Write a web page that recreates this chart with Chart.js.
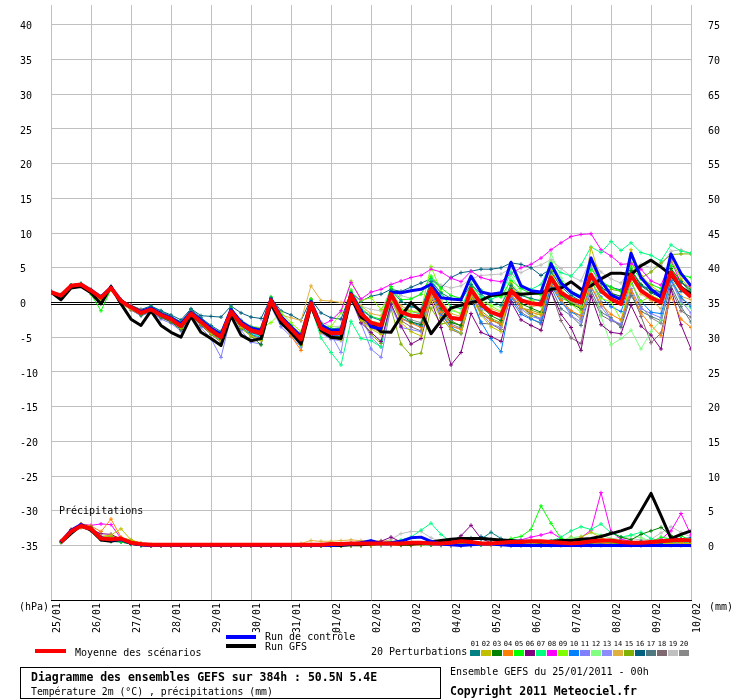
<!DOCTYPE html>
<html>
<head>
<meta charset="utf-8">
<script src="https://cdn.jsdelivr.net/npm/chart.js@4.4.1/dist/chart.umd.min.js"></script>
<style>
html, body { margin:0; padding:0; background:#fff; }
canvas { display:block; }
</style>
</head>
<body>
<canvas id="diag" width="740" height="700"></canvas>
<script>
// x = 6h steps from 25/01 00h (0..64), one label per day
const dates = ['25/01','26/01','27/01','28/01','29/01','30/01','31/01','01/02','02/02',
               '03/02','04/02','05/02','06/02','07/02','08/02','09/02','10/02'];
const tempTicks = [-35,-30,-25,-20,-15,-10,-5,0,5,10,15,20,25,30,35,40];
const mmTicks = [0,5,10,15,20,25,30,35,40,45,50,55,60,65,70,75];

// temperature 2m (°C), 65 values
const tempMean = [
  1.5,1.0,2.4,2.6,1.7,0.7,2.1,0.2,
  -0.7,-1.5,-1.0,-1.8,-2.4,-3.4,-1.6,-2.8,
  -4.0,-5.0,-1.3,-3.1,-4.0,-4.4,0.3,-2.3,
  -3.8,-5.3,-0.1,-3.7,-4.4,-4.4,1.1,-1.6,
  -2.9,-3.3,1.2,-1.4,-1.9,-2.0,2.0,-0.3,
  -2.2,-2.4,1.9,-0.2,-1.4,-1.9,1.7,0.3,
  -0.1,-0.3,3.6,1.4,0.5,0.0,4.0,1.7,
  0.5,-0.2,4.0,1.7,0.7,0.0,4.3,2.1,
  0.8];
const tempControl = [
  1.5,1.0,2.4,2.6,1.8,0.8,2.2,0.3,
  -0.6,-1.3,-0.8,-1.6,-2.2,-3.1,-1.4,-2.5,
  -3.7,-4.6,-1.0,-2.8,-3.7,-4.0,0.5,-2.0,
  -3.5,-4.9,0.1,-3.3,-4.0,-3.9,1.3,-1.2,
  -3.5,-3.8,1.5,1.4,1.7,1.9,2.6,0.7,
  0.5,0.4,3.8,1.5,1.2,1.4,5.8,2.4,
  1.7,1.5,5.6,2.8,1.5,0.7,6.4,3.1,
  1.1,0.4,7.1,3.6,1.9,0.8,7.0,4.2,
  2.4];
const tempGfs = [
  1.5,0.4,2.1,2.3,1.4,-0.2,2.3,-0.2,
  -2.4,-3.3,-1.2,-3.3,-4.3,-5.0,-2.0,-4.3,
  -5.2,-6.2,-1.9,-4.7,-5.5,-5.2,-0.2,-2.9,
  -4.3,-6.0,-0.5,-4.0,-5.0,-5.2,0.7,-2.1,
  -2.9,-4.2,-4.3,-2.0,0.0,-1.3,-4.5,-2.6,
  -0.8,-0.4,0.0,0.3,1.0,1.2,1.4,1.2,
  1.3,1.4,1.9,2.1,3.0,1.9,2.4,3.4,
  4.2,4.2,4.0,5.3,6.1,5.1,4.0,2.2,
  1.2];
const tempPerts = [
  [1.6,1.1,2.5,2.7,1.9,0.9,2.3,0.3, -0.5,-1.2,-0.6,-1.2,-2.0,-2.8,-1.0,-2.2, -3.3,-4.2,-0.9,-2.6,-3.5,-3.8,0.6,-2.0, -3.4,-4.6,0.2,-3.0,-3.9,-4.1,1.3,-1.0,
   -2.1,-2.6,1.8,0.2,-0.6,-1.0,3.0,1.4, 0.6,0.3,2.6,1.2,0.2,-0.4,2.5,1.0, 0.6,0.2,4.4,2.3,1.0,0.2,3.5,1.5, 0.8,0.6,3.8,2.4,1.9,1.5,4.4,3.0, 1.8],
  [1.4,1.0,2.3,2.5,1.5,0.3,1.8,-0.2, -1.0,-1.6,-0.8,-1.9,-2.6,-3.7,-1.4,-3.1, -4.5,-5.6,-1.5,-3.6,-4.8,-5.5,0.1,-2.8, -4.3,-5.9,-0.7,-4.2,-5.0,-5.4,0.8,-2.6,
   -3.8,-4.6,0.6,-2.9,-4.2,-4.8,0.4,-2.3, -3.8,-4.4,0.9,-1.8,-3.5,-4.2,2.8,-0.5, -2.0,-1.6,4.9,2.0,0.3,-0.7,7.9,3.2, 1.2,0.4,7.6,3.9,2.4,1.4,6.2,3.4, 2.0],
  [1.5,0.9,2.4,2.6,1.6,0.5,2.0,0.0, -0.9,-1.8,-1.2,-2.1,-2.8,-3.9,-1.8,-3.2, -4.5,-5.6,-1.6,-3.7,-4.8,-6.1,-0.4,-3.0, -4.3,-5.8,-0.5,-4.1,-5.0,-4.9,0.7,-2.0,
   -3.4,-3.8,1.6,-1.8,-2.8,-3.2,1.7,-0.9, -2.9,-3.3,2.2,-0.5,-1.9,-2.6,2.0,-0.2, -0.8,-1.4,3.2,1.1,-0.2,-0.9,3.8,2.2, 1.3,0.9,4.6,2.6,1.5,1.1,4.9,3.0, 1.4],
  [1.6,1.1,2.3,2.5,1.8,0.8,2.2,0.4, -0.4,-1.1,-0.9,-1.6,-2.1,-3.0,-1.3,-2.6, -3.7,-4.6,-1.2,-3.0,-4.1,-4.5,0.0,-2.5, -4.8,-6.9,-0.8,-4.3,-4.9,-5.0,0.6,-2.2,
   -3.6,-4.1,0.8,-2.3,-3.0,-3.6,1.0,-1.4, -3.4,-3.9,0.9,-1.5,-2.6,-3.1,1.2,-0.7, -1.4,-1.8,2.7,0.3,-1.2,-1.9,2.4,-0.3, -1.7,-2.5,1.8,-1.5,-3.3,-4.8,0.9,-2.4, -3.6],
  [1.5,1.0,2.2,2.4,1.2,-1.2,1.9,0.1, -0.8,-1.3,-0.7,-1.5,-2.2,-3.1,-1.2,-2.5, -3.6,-4.4,-0.8,-2.7,-3.7,-4.0,0.8,-1.8, -3.3,-4.7,0.4,-3.1,-3.8,-3.6,1.8,-0.8,
   -2.0,-2.4,2.3,0.4,0.5,1.2,3.8,2.1, 1.0,0.6,3.5,1.8,0.9,0.8,3.2,2.0, 1.3,1.1,5.8,3.0,1.6,1.0,4.8,3.1, 2.2,1.6,5.1,3.4,2.6,2.0,5.4,4.0, 3.6],
  [1.4,0.9,2.3,2.5,1.6,0.6,2.1,0.1, -0.9,-1.6,-1.1,-2.0,-2.7,-3.6,-1.9,-3.1, -4.3,-5.3,-1.5,-3.3,-4.3,-4.7,0.1,-2.6, -4.1,-5.7,-0.4,-4.0,-4.8,-4.9,0.8,-2.9,
   -4.3,-5.6,-0.2,-3.4,-6.0,-5.2,0.3,-3.6, -9.0,-7.2,-1.6,-4.3,-4.9,-5.6,0.1,-2.5, -3.3,-4.0,1.6,-1.7,-3.6,-6.9,0.9,-3.2, -4.3,-4.5,-0.4,-3.4,-4.7,-6.7,1.9,-3.2, -6.7],
  [1.5,1.0,2.5,2.7,1.7,0.7,2.0,0.1, -0.8,-1.6,-1.2,-2.0,-2.6,-3.6,-1.8,-3.0, -4.3,-5.4,-1.5,-3.4,-4.4,-4.9,0.1,-2.8, -4.5,-6.2,-0.6,-5.1,-7.2,-9.0,-2.7,-5.2,
   -5.5,-6.4,0.3,-2.1,-1.9,-1.5,3.3,1.3, -0.6,-0.9,2.6,0.8,0.5,1.0,4.4,2.5, 1.9,2.6,5.6,4.3,3.8,5.4,8.0,7.2, 8.8,7.5,8.6,7.2,6.8,6.0,8.3,7.4, 7.1],
  [1.6,1.1,2.4,2.6,1.8,0.8,2.3,0.4, -0.5,-1.3,-0.8,-1.6,-2.2,-3.1,-1.3,-2.5, -3.5,-4.4,-1.0,-2.8,-3.7,-4.0,0.6,-2.1, -3.5,-4.8,0.2,-3.3,-2.6,-1.2,2.9,0.5,
   1.5,1.9,2.6,3.1,3.6,3.9,4.8,4.4, 3.5,3.0,4.5,3.6,3.2,3.0,4.2,5.0, 5.5,6.4,7.6,8.6,9.5,9.8,9.9,7.6, 6.7,5.5,5.6,4.8,3.1,2.5,6.0,2.8, 2.2],
  [1.5,1.0,2.5,2.7,1.7,0.7,2.2,0.2, -0.6,-1.4,-0.9,-1.7,-2.3,-3.2,-1.4,-2.7, -3.8,-4.6,-1.1,-2.8,-3.5,-3.6,-2.9,-1.4, -2.9,-4.2,0.5,-3.4,-3.5,-1.5,3.1,0.3,
   0.7,-1.0,0.9,-1.0,-1.3,-1.2,5.2,1.6, -0.9,-1.7,2.5,0.2,-0.5,-1.3,2.8,1.2, 0.4,-0.5,4.6,0.9,-0.2,-1.4,3.2,0.6, 0.1,-2.5,2.9,0.1,1.0,0.4,4.8,3.2, 1.6],
  [1.5,1.0,2.3,2.6,1.6,0.6,2.0,0.1, -0.9,-1.7,-1.2,-2.0,-2.6,-3.7,-1.8,-3.1, -4.4,-5.5,-1.6,-3.5,-4.6,-5.0,0.1,-2.7, -4.2,-5.6,-0.2,-3.9,-4.7,-4.8,0.9,-2.2,
   -3.5,-4.2,0.7,-2.2,-2.9,-3.4,1.6,-1.6, -3.6,-4.4,0.8,-2.8,-5.2,-7.1,0.4,-1.7, -2.4,-2.9,2.5,0.0,-1.4,-1.9,3.0,0.8, -0.6,-1.3,2.8,0.2,-1.4,-1.6,3.2,0.8, -0.6],
  [1.4,0.9,2.3,2.5,1.5,0.5,1.9,-0.1, -1.0,-1.9,-1.3,-2.4,-3.0,-4.1,-2.2,-3.6, -5.2,-7.9,-2.0,-4.0,-5.7,-6.0,-0.6,-3.5, -4.9,-6.4,-0.8,-4.4,-5.3,-5.5,0.5,-3.0,
   -6.7,-7.9,-0.6,-3.6,-3.9,-4.2,1.0,-1.9, -3.4,-3.8,1.3,-1.6,-3.1,-3.6,1.0,-0.9, -2.0,-2.4,2.9,0.4,-1.9,-2.8,2.3,-0.6, -2.5,-3.1,2.0,-0.9,-1.6,-2.2,3.1,0.2, -1.5],
  [1.5,1.0,2.4,2.6,1.7,0.7,2.0,0.3, -0.6,-1.4,-1.0,-1.8,-2.4,-3.3,-1.5,-2.7, -3.9,-4.7,-1.1,-2.9,-3.9,-4.3,0.4,-2.3, -3.7,-5.0,-0.2,-3.6,-4.4,-4.5,0.8,-1.8,
   -2.7,-2.9,2.1,-0.9,-1.6,-1.9,2.8,0.1, -1.2,-1.5,3.0,0.6,-0.3,-0.7,4.0,1.4, 0.2,0.5,7.1,3.5,1.5,-0.6,4.5,-2.0, -6.1,-5.2,-4.0,-6.7,-4.2,-2.5,3.5,-0.1, -0.8],
  [1.5,1.0,2.4,2.6,1.7,0.7,2.1,0.2, -0.8,-1.6,-1.1,-1.9,-2.5,-3.5,-1.7,-2.9, -4.2,-5.2,-1.3,-3.3,-4.3,-4.8,0.0,-2.6, -4.1,-5.9,-0.5,-3.9,-4.6,-7.2,1.0,-2.1,
   -5.0,-6.4,0.2,-2.4,-2.8,-3.1,2.4,-0.4, -2.3,-2.6,1.8,-0.9,-1.6,-2.2,2.2,0.5, 0.0,-0.3,3.2,1.0,0.2,-0.5,5.3,2.0, 1.4,0.8,4.9,2.6,1.8,1.3,4.9,2.3, 1.0],
  [1.5,1.0,2.4,2.6,1.7,0.7,2.1,0.2, -0.7,-1.4,-0.9,-1.7,-2.3,-3.2,-1.5,-2.6, -3.8,-4.7,-1.2,-2.9,-3.8,-4.2,0.4,-1.8, -2.2,-2.6,2.4,0.3,0.2,0.0,0.3,-0.5,
   -1.6,-1.9,1.4,-0.5,-1.2,-1.6,2.1,0.3, -1.6,-2.0,1.5,-0.6,-0.9,-1.4,2.4,0.5, -0.6,-0.4,4.1,1.2,0.7,-0.2,6.0,2.1, 0.6,-0.1,5.4,1.2,0.3,-0.9,3.5,0.9, 0.4],
  [1.5,1.0,2.4,2.6,1.7,0.7,2.0,0.1, -0.8,-1.6,-1.1,-1.9,-2.6,-3.5,-1.7,-2.9, -4.2,-5.1,-1.4,-3.2,-4.3,-4.6,0.2,-2.5, -4.0,-5.4,-0.3,-3.8,-4.5,-4.6,0.9,-2.3,
   -4.6,-5.9,-0.9,-6.0,-7.6,-7.3,-0.8,-3.1, -2.8,-3.3,1.4,-1.2,-2.3,-2.9,1.2,-0.8, -1.1,-1.6,2.8,0.6,0.1,-0.8,4.1,1.6, 1.9,1.6,5.8,3.5,4.4,5.7,6.9,7.0, 7.0],
  [1.6,1.1,2.5,2.7,1.8,0.8,2.2,0.3, -0.4,-1.0,-0.5,-1.2,-1.8,-2.5,-0.9,-1.9, -2.0,-2.1,-0.5,-1.5,-2.1,-2.3,0.7,-1.2, -1.8,-2.6,0.5,-1.5,-2.2,-2.4,1.5,0.2,
   0.9,1.2,1.9,1.6,2.2,2.8,3.4,2.1, 3.6,4.3,4.5,4.8,4.8,5.0,5.7,5.5, 5.0,3.9,4.9,3.1,1.6,0.9,3.9,2.7, 2.2,1.8,4.6,2.4,1.4,0.7,3.8,1.6, 1.2],
  [1.5,1.0,2.4,2.6,1.7,0.6,2.1,0.1, -0.9,-1.7,-1.2,-2.0,-2.6,-3.6,-1.6,-2.9, -4.1,-5.0,-1.2,-3.0,-4.0,-4.5,0.5,-2.2, -3.7,-5.1,0.0,-3.5,-4.2,-4.3,1.4,-1.4,
   -2.8,-3.4,1.8,-0.9,-1.3,-1.6,2.6,-0.2, -2.6,-3.4,1.2,-1.7,-2.4,-3.3,0.9,-0.7, -1.6,-2.6,2.2,-0.9,-1.9,-3.3,1.8,-1.4, -2.2,-3.6,1.0,-1.3,-2.0,-2.6,2.4,-0.6, -2.8],
  [1.4,0.9,2.3,2.5,1.5,0.5,1.9,0.0, -1.1,-1.9,-1.4,-2.2,-2.8,-3.9,-1.9,-3.3, -4.6,-5.7,-1.6,-3.6,-4.7,-5.2,-0.1,-2.8, -4.4,-6.0,-0.5,-4.2,-5.0,-5.1,0.7,-2.5,
   -3.6,-4.3,0.5,-2.6,-3.5,-4.1,1.2,-2.2, -3.9,-4.5,0.6,-3.0,-3.1,-3.9,0.9,-1.4, -2.3,-3.1,1.6,-2.6,-5.1,-5.9,1.2,-1.8, -2.6,-3.2,1.5,-2.0,-5.8,-4.4,2.0,-1.2, -2.1],
  [1.6,1.1,2.5,2.7,1.8,0.8,2.3,0.3, -0.5,-1.2,-0.7,-1.4,-2.0,-2.9,-1.1,-2.3, -3.4,-4.2,-0.8,-2.5,-3.4,-3.7,0.7,-1.8, -3.2,-4.5,0.5,-2.8,-3.5,-3.4,1.5,-0.5,
   -1.0,-1.2,2.0,1.0,0.6,1.2,3.4,2.5, 2.1,2.4,3.4,3.9,4.0,4.1,4.9,4.3, 5.0,5.4,6.2,4.9,3.8,3.1,6.4,4.4, 3.4,2.8,4.9,5.5,5.0,5.3,7.4,7.6, 7.1],
  [1.5,1.0,2.4,2.6,1.7,0.7,2.1,0.2, -0.7,-1.5,-0.9,-1.8,-2.4,-3.4,-1.5,-2.8, -4.0,-5.0,-1.1,-3.0,-3.9,-4.4,0.5,-2.2, -3.6,-5.1,0.1,-3.5,-4.3,-4.3,1.3,-1.5,
   -3.1,-3.6,1.1,-1.9,-2.5,-2.9,1.8,-1.2, -3.1,-3.7,1.4,-1.6,-2.6,-3.0,1.9,-0.6, -1.7,-2.3,3.8,0.4,-1.2,-2.4,3.4,0.1, -2.4,-3.4,3.3,-0.6,-2.2,-3.0,3.6,0.5, -0.3]
];

// 6h precipitation (mm), 64 values from 25/01 06h
const precipMean = [
  0.5,2.0,2.8,2.4,1.0,0.9,1.0,0.4,
  0.2,0.1,0.1,0.1,0.1,0.1,0.1,0.1,
  0.1,0.1,0.1,0.1,0.1,0.1,0.1,0.1,
  0.1,0.1,0.1,0.2,0.2,0.3,0.3,0.3,
  0.3,0.3,0.3,0.4,0.4,0.3,0.3,0.4,
  0.6,0.5,0.3,0.3,0.4,0.5,0.5,0.6,
  0.6,0.5,0.4,0.3,0.4,0.6,0.7,0.7,
  0.5,0.4,0.4,0.5,0.6,0.7,0.8,0.7];
const precipControl = [
  0.5,2.2,3.0,2.4,1.1,0.8,0.9,0.3,
  0.1,0,0,0,0,0,0,0,
  0,0,0,0,0,0,0,0,
  0,0,0,0,0.1,0.2,0.4,0.7,
  0.3,0.4,0.6,1.1,1.2,0.6,0.2,0.1,
  0,0.1,0.2,0.2,0.1,0,0,0,
  0,0,0,0,0,0,0,0,
  0,0,0,0,0,0,0,0];
const precipGfs = [
  0.4,1.7,2.9,2.2,0.8,0.6,0.9,0.3,
  0.1,0,0,0,0,0,0,0,
  0,0,0,0,0,0,0,0,
  0,0,0,0,0,0.1,0.1,0.2,
  0.3,0.3,0.2,0.2,0.3,0.5,0.7,0.9,
  1.0,1.0,1.0,0.9,0.8,0.7,0.6,0.6,
  0.5,0.6,0.7,0.7,0.9,1.0,1.3,1.7,
  2.1,2.6,5.0,7.5,4.3,1.0,1.6,2.1];
const precipPerts = [
  [0.6,2.2,3.0,2.6,1.2,0.7,0.6,0.2, 0.1,0,0,0,0,0,0,0, 0,0,0,0,0,0,0,0, 0,0,0,0.1,0.1,0.2,0.2,0.3,
   0.2,0.2,0.4,0.3,0.2,0.1,0.3,0.5, 0.8,1.1,0.9,1.9,1.0,0.4,0.2,0.1, 0.1,0,0.2,0.4,0.3,0.2,0.1,0.1, 0.2,0.4,0.6,0.5,0.3,0.8,0.9,0.7],
  [0.5,1.9,2.6,2.2,1.3,1.5,2.4,0.8, 0.3,0.1,0,0,0,0,0,0, 0,0,0,0,0,0,0,0, 0,0,0,0,0,0,0,0,
   0.2,0.4,0.3,0.2,0.1,0.1,0.2,0.3, 0.4,0.3,0.2,0.1,0.2,0.3,0.5,0.4, 0.2,0.3,0.5,0.7,1.2,1.9,1.1,0.6, 0.3,0.2,0.1,0.1,0.2,0.3,0.4,0.2],
  [0.5,2.1,2.9,2.5,1.0,0.7,0.8,0.3, 0.1,0,0,0,0,0,0,0, 0,0,0,0,0,0,0,0, 0,0,0,0,0,0.1,0.1,0.2,
   0.3,0.2,0.1,0.1,0.2,0.4,0.3,0.2, 0.1,0.1,0.2,0.4,0.5,0.3,0.2,0.1, 0.4,0.6,0.5,0.3,0.6,0.9,1.3,1.9, 1.2,0.8,1.6,2.1,2.6,1.4,0.8,0.5],
  [0.6,2.3,3.1,2.8,2.0,3.8,1.2,0.4, 0.1,0,0,0,0,0,0,0, 0,0,0,0,0,0,0,0, 0,0,0,0,0,0,0,0.1,
   0.2,0.1,0,0,0.1,0.2,0.1,0, 0,0.1,0.3,0.2,0.1,0,0,0.1, 0.2,0.1,0,0,0.1,0.3,0.4,0.2, 0.1,0.2,0.4,0.3,0.2,0.1,0.2,0.3],
  [0.5,2.1,3.0,2.7,1.1,0.6,0.5,0.2, 0,0,0,0,0,0,0,0, 0,0,0,0,0,0,0,0, 0,0,0,0,0,0,0.1,0.1,
   0.2,0.3,0.2,0.1,0.1,0.1,0.2,0.3, 0.2,0.1,0.1,0.3,0.5,1.0,1.3,2.3, 5.7,3.2,1.0,0.4,0.2,0.3,0.6,0.4, 0.2,0.1,0.3,0.5,1.2,0.9,1.4,0.7],
  [0.5,2.0,2.9,2.3,1.7,1.6,0.9,0.3, 0.1,0,0,0,0,0,0,0, 0,0,0,0,0,0,0,0, 0,0,0,0,0,0.1,0.2,0.4,
   0.6,1.2,0.5,0.3,0.2,0.2,0.3,0.5, 1.4,2.9,1.0,0.4,0.2,0.1,0.1,0, 0,0.1,0.2,0.1,0,0,0.1,0.2, 0.1,0,0,0.1,0.2,0.1,0,0],
  [0.5,2.0,2.7,2.3,0.9,0.7,0.6,0.2, 0,0,0,0,0,0,0,0, 0,0,0,0,0,0,0,0, 0,0,0,0,0,0,0.1,0.2,
   0.3,0.5,0.8,1.2,2.2,3.2,1.6,0.5, 0.2,0.1,0.1,0.2,0.3,0.2,0.1,0.1, 0.2,0.6,1.2,2.1,2.7,2.3,3.1,1.8, 1.2,1.5,1.9,1.0,0.6,0.4,0.5,0.3],
  [0.6,2.3,3.1,2.9,3.1,3.0,1.0,0.3, 0.1,0,0,0,0,0,0,0, 0,0,0,0,0,0,0,0, 0,0,0,0,0,0,0,0.1,
   0.2,0.3,0.2,0.1,0.2,0.3,0.2,0.1, 0.1,0.2,0.3,0.4,0.5,0.6,0.8,1.2, 1.5,1.9,1.0,0.6,1.1,2.2,7.6,2.0, 0.9,0.6,0.4,0.5,0.9,2.1,4.6,1.5],
  [0.5,2.0,2.8,2.5,1.0,0.8,0.7,0.3, 0.1,0,0,0,0,0,0,0, 0,0,0,0,0,0,0,0, 0,0,0,0,0,0,0,0.1,
   0.1,0.2,0.1,0.1,0.2,0.3,0.4,0.3, 0.2,0.1,0.2,0.3,0.2,0.1,0.2,0.1, 0.2,0.3,0.5,0.4,0.6,0.9,0.6,0.4, 0.3,0.2,0.4,0.3,0.5,0.6,0.4,0.3],
  [0.5,2.1,2.9,2.4,1.0,0.8,0.7,0.3, 0.1,0,0,0,0,0,0,0, 0,0,0,0,0,0,0,0, 0,0,0,0,0.1,0.3,0.4,0.6,
   0.4,0.2,0.1,0.1,0.2,0.1,0,0, 0,0,0.1,0.2,0.1,0,0,0, 0,0,0,0.1,0.2,0.1,0,0, 0,0.1,0.2,0.1,0,0,0.1,0.2],
  [0.5,1.9,2.7,2.2,0.8,0.6,0.5,0.2, 0,0,0,0,0,0,0,0, 0,0,0,0,0,0,0,0, 0,0,0,0,0,0,0,0,
   0,0.1,0.2,0.3,0.2,0.1,0.1,0, 0,0,0.1,0.1,0,0,0.1,0.2, 0.3,0.2,0.1,0.1,0.2,0.4,0.5,0.3, 0.2,0.1,0,0,0.1,0.2,0.3,0.2],
  [0.5,2.0,2.8,2.3,1.0,0.7,0.6,0.2, 0,0,0,0,0,0,0,0, 0,0,0,0,0,0,0,0, 0,0,0,0,0,0,0,0,
   0.1,0.1,0.2,0.4,0.3,0.2,0.2,0.1, 0.1,0.2,0.3,0.2,0.1,0.2,0.3,0.2, 0.3,0.5,0.8,1.1,1.3,1.9,1.5,1.0, 0.8,1.5,1.1,0.6,0.3,0.2,0.2,0.3],
  [0.5,2.1,2.9,2.6,1.2,0.8,0.6,0.2, 0,0,0,0,0,0,0,0, 0,0,0,0,0,0,0,0, 0,0,0,0,0,0,0,0,
   0.1,0.2,0.1,0,0,0.1,0.2,0.1, 0,0,0.1,0.2,0.3,0.2,0.1,0, 0,0.1,0.1,0.2,0.1,0,0,0.1, 0.2,0.3,0.2,0.1,0.1,0.2,0.4,0.3],
  [0.6,2.2,3.0,2.5,1.1,0.9,0.8,0.3, 0.1,0,0,0,0,0,0,0, 0,0,0,0,0,0,0,0, 0.3,0.7,0.6,0.6,0.7,0.8,0.7,0.6,
   0.7,0.6,0.5,0.3,0.2,0.1,0.2,0.1, 0.1,0.2,0.1,0,0.1,0.2,0.2,0.1, 0.2,0.3,0.2,0.4,0.6,0.8,0.5,0.3, 0.2,0.1,0.3,0.5,0.4,0.3,0.2,0.1],
  [0.5,2.0,2.7,2.4,1.2,1.3,1.1,0.8, 0.3,0.1,0,0,0,0,0,0, 0,0,0,0,0,0,0,0, 0,0,0,0,0,0,0,0,
   0.1,0.2,0.1,0.1,0.3,0.2,0.1,0, 0,0.1,0.2,0.1,0,0.1,0.2,0.3, 0.2,0.4,0.6,1.2,0.9,0.5,0.4,0.3, 0.4,0.5,0.3,0.2,0.3,0.6,0.8,0.5],
  [0.5,2.1,2.8,2.5,1.0,0.8,0.6,0.2, 0.1,0,0,0,0,0,0,0.1, 0,0,0,0,0,0,0,0, 0,0,0,0,0,0,0.1,0.2,
   0.3,0.2,0.2,0.3,0.2,0.4,0.6,0.5, 0.4,0.7,1.3,0.9,0.4,0.3,0.2,0.1, 0.1,0.2,0.3,0.2,0.1,0.1,0.2,0.3, 0.3,0.4,0.5,0.6,0.7,0.9,1.0,1.1],
  [0.5,1.9,2.8,2.4,1.0,0.8,0.6,0.2, 0.1,0,0,0,0,0,0,0, 0,0,0,0,0,0,0,0, 0,0,0,0,0,0,0,0,
   0.1,0.1,0.2,0.1,0.1,0.2,0.1,0.1, 0.2,0.3,0.2,0.1,0,0,0.1,0.1, 0.2,0.3,0.4,0.3,0.2,0.3,0.4,0.5, 0.6,0.4,0.3,0.2,0.3,0.5,0.7,0.8],
  [0.4,1.8,2.6,2.1,0.8,0.6,0.5,0.2, 0,0,0,0,0,0,0,0, 0,0,0,0,0,0,0,0, 0,0,0,0,0,0,0,0,
   0,0,0.1,0.1,0.2,0.2,0.1,0, 0,0.1,0.2,0.3,0.2,0.1,0,0, 0,0.1,0.2,0.1,0,0.1,0.3,0.4, 0.3,0.2,0.1,0.2,0.4,0.5,0.3,0.2],
  [0.5,2.1,2.9,2.5,1.1,0.9,0.8,0.5, 0.3,0.1,0,0,0,0,0,0, 0,0,0,0,0,0,0,0, 0,0,0,0,0,0,0.1,0.2,
   0.4,0.9,1.7,2.0,2.0,1.1,0.5,0.3, 0.2,0.1,0.2,0.3,0.2,0.1,0.1,0.2, 0.3,0.2,0.1,0.2,0.3,0.4,0.6,0.9, 1.2,1.0,0.8,0.9,1.8,2.7,1.9,1.2],
  [0.5,2.0,2.9,2.4,1.0,0.9,0.7,0.3, 0.1,0,0,0,0,0,0,0, 0,0,0,0,0,0,0,0, 0,0,0,0,0,0,0,0,
   0.1,0.2,0.3,0.2,0.1,0.1,0.2,0.2, 0.3,0.2,0.1,0.1,0.2,0.3,0.2,0.1, 0.1,0.2,0.3,0.4,0.3,0.2,0.3,0.4, 0.5,0.4,0.3,0.2,0.3,0.4,0.5,0.6]
];

const pertColors = ['#008080','#c0c000','#008000','#ff8000','#00ff00','#800080','#00ff80','#ff00ff','#80ff00','#0080ff',
                    '#8080ff','#80ff80','#8c8cff','#e0b040','#80b000','#006080','#507880','#806870','#c0c0c0','#888888'];

[tempMean, tempControl, tempGfs].concat(tempPerts).forEach((a, k) => {
  if (a.length !== 65) throw new Error('temp series ' + k + ' has ' + a.length);
});
[precipMean, precipControl, precipGfs].concat(precipPerts).forEach((a, k) => {
  if (a.length !== 64) throw new Error('precip series ' + k + ' has ' + a.length);
});

function pts(arr, start) {
  return arr.map((v, k) => ({ x: k + start, y: v }));
}

const datasets = [];
function addLine(arr, start, axis, color, width, order, marks) {
  datasets.push({
    data: pts(arr, start),
    yAxisID: axis,
    borderColor: color,
    backgroundColor: color,
    borderWidth: width,
    borderJoinStyle: 'round',
    pointStyle: 'cross',
    pointRadius: marks ? 2 : 0,
    pointBorderWidth: 1,
    order: order,
    fill: false
  });
}

addLine(tempMean, 0, 'yT', '#ff0000', 4, 0, false);
addLine(precipMean, 1, 'yR', '#ff0000', 4, 0, false);
addLine(tempControl, 0, 'yT', '#0000ff', 3, 1, false);
addLine(precipControl, 1, 'yR', '#0000ff', 3, 1, false);
addLine(tempGfs, 0, 'yT', '#000000', 3, 2, false);
addLine(precipGfs, 1, 'yR', '#000000', 3, 2, false);
tempPerts.forEach((a, k) => addLine(a, 0, 'yT', pertColors[k], 1, 3 + k, true));
precipPerts.forEach((a, k) => addLine(a, 1, 'yR', pertColors[k], 1, 3 + k, true));

const MONO = "'DejaVu Sans Mono', monospace";
Chart.defaults.font.family = MONO;
Chart.defaults.font.size = 10;
Chart.defaults.color = '#000';

const extras = {
  id: 'extras',
  beforeDatasetsDraw(chart) {
    const { ctx, chartArea: a, scales } = chart;
    const y0 = Math.round(scales.yT.getPixelForValue(0));
    ctx.save();
    ctx.strokeStyle = '#000';
    ctx.lineWidth = 1;
    [y0 - 0.5, y0 + 1.5].forEach(y => {
      ctx.beginPath(); ctx.moveTo(a.left, y); ctx.lineTo(a.right, y); ctx.stroke();
    });
    ctx.restore();
  },
  afterDraw(chart) {
    const ctx = chart.ctx;
    ctx.save();
    ctx.textBaseline = 'middle';
    ctx.textAlign = 'left';
    ctx.fillStyle = '#000';
    ctx.font = '10px ' + MONO;
    ctx.fillText('(hPa)', 19, 607);
    ctx.fillText('(mm)', 709, 607);
    ctx.fillText('Précipitations', 59, 511);

    // legend
    ctx.fillStyle = '#ff0000'; ctx.fillRect(35, 649, 31, 4);
    ctx.fillStyle = '#0000ff'; ctx.fillRect(226, 635, 30, 4);
    ctx.fillStyle = '#000000'; ctx.fillRect(226, 644, 30, 4);
    ctx.fillText('Moyenne des scénarios', 75, 653);
    ctx.fillText('Run de contrôle', 265, 637);
    ctx.fillText('Run GFS', 265, 647);
    ctx.fillText('20 Perturbations', 371, 652);
    ctx.font = '7px ' + MONO;
    ctx.textAlign = 'center';
    pertColors.forEach((c, k) => {
      const x = 470 + k * 11;
      ctx.fillStyle = c;
      ctx.fillRect(x, 650, 10, 6);
      ctx.fillStyle = '#000';
      ctx.fillText(String(k + 1).padStart(2, '0'), x + 5, 644);
    });

    // title box
    ctx.textAlign = 'left';
    ctx.strokeStyle = '#000';
    ctx.lineWidth = 1;
    ctx.strokeRect(20.5, 667.5, 420, 31);
    ctx.font = 'bold 11.5px ' + MONO;
    ctx.fillText('Diagramme des ensembles GEFS sur 384h : 50.5N 5.4E', 31, 678);
    ctx.fillText('Copyright 2011 Meteociel.fr', 450, 692);
    ctx.font = '9.8px ' + MONO;
    ctx.fillText('Température 2m (°C) , précipitations (mm)', 31, 692);
    ctx.font = '10px ' + MONO;
    ctx.fillText('Ensemble GEFS du 25/01/2011 - 00h', 450, 672);
    ctx.restore();
  }
};

const half = 300 / 7;
new Chart(document.getElementById('diag'), {
  type: 'line',
  data: { datasets: datasets },
  options: {
    responsive: false,
    animation: false,
    devicePixelRatio: 1,
    layout: { padding: { left: 20, right: 0, top: 0, bottom: 0 } },
    plugins: { legend: { display: false }, tooltip: { enabled: false } },
    scales: {
      x: {
        type: 'linear', min: 0, max: 64,
        afterBuildTicks: s => { s.ticks = dates.map((d, k) => ({ value: k * 4 })); },
        afterFit: s => { s.height = 100; s.paddingLeft = 0; s.paddingRight = 0; },
        grid: { color: '#c0c0c0', drawTicks: false },
        border: { color: '#000', width: 1 },
        ticks: {
          autoSkip: false, minRotation: 90, maxRotation: 90, padding: 3, labelOffset: 6,
          callback: v => dates[Math.round(v / 4)]
        }
      },
      yT: {
        position: 'left', min: -half, max: half,
        afterBuildTicks: s => { s.ticks = tempTicks.map(v => ({ value: v })); },
        afterFit: s => { s.width = 31; s.paddingTop = 0; s.paddingBottom = 0; },
        grid: { color: '#c0c0c0', drawTicks: false },
        border: { display: false },
        ticks: { crossAlign: 'far', padding: 0, labelOffset: 2 }
      },
      yR: {
        position: 'right', min: 35 - half, max: 35 + half,
        afterBuildTicks: s => { s.ticks = mmTicks.map(v => ({ value: v })); },
        afterFit: s => { s.width = 49; s.paddingTop = 0; s.paddingBottom = 0; },
        grid: { display: false, drawTicks: false },
        border: { display: false },
        ticks: { padding: 17, labelOffset: 2 }
      }
    }
  },
  plugins: [extras]
});
</script>
</body>
</html>
